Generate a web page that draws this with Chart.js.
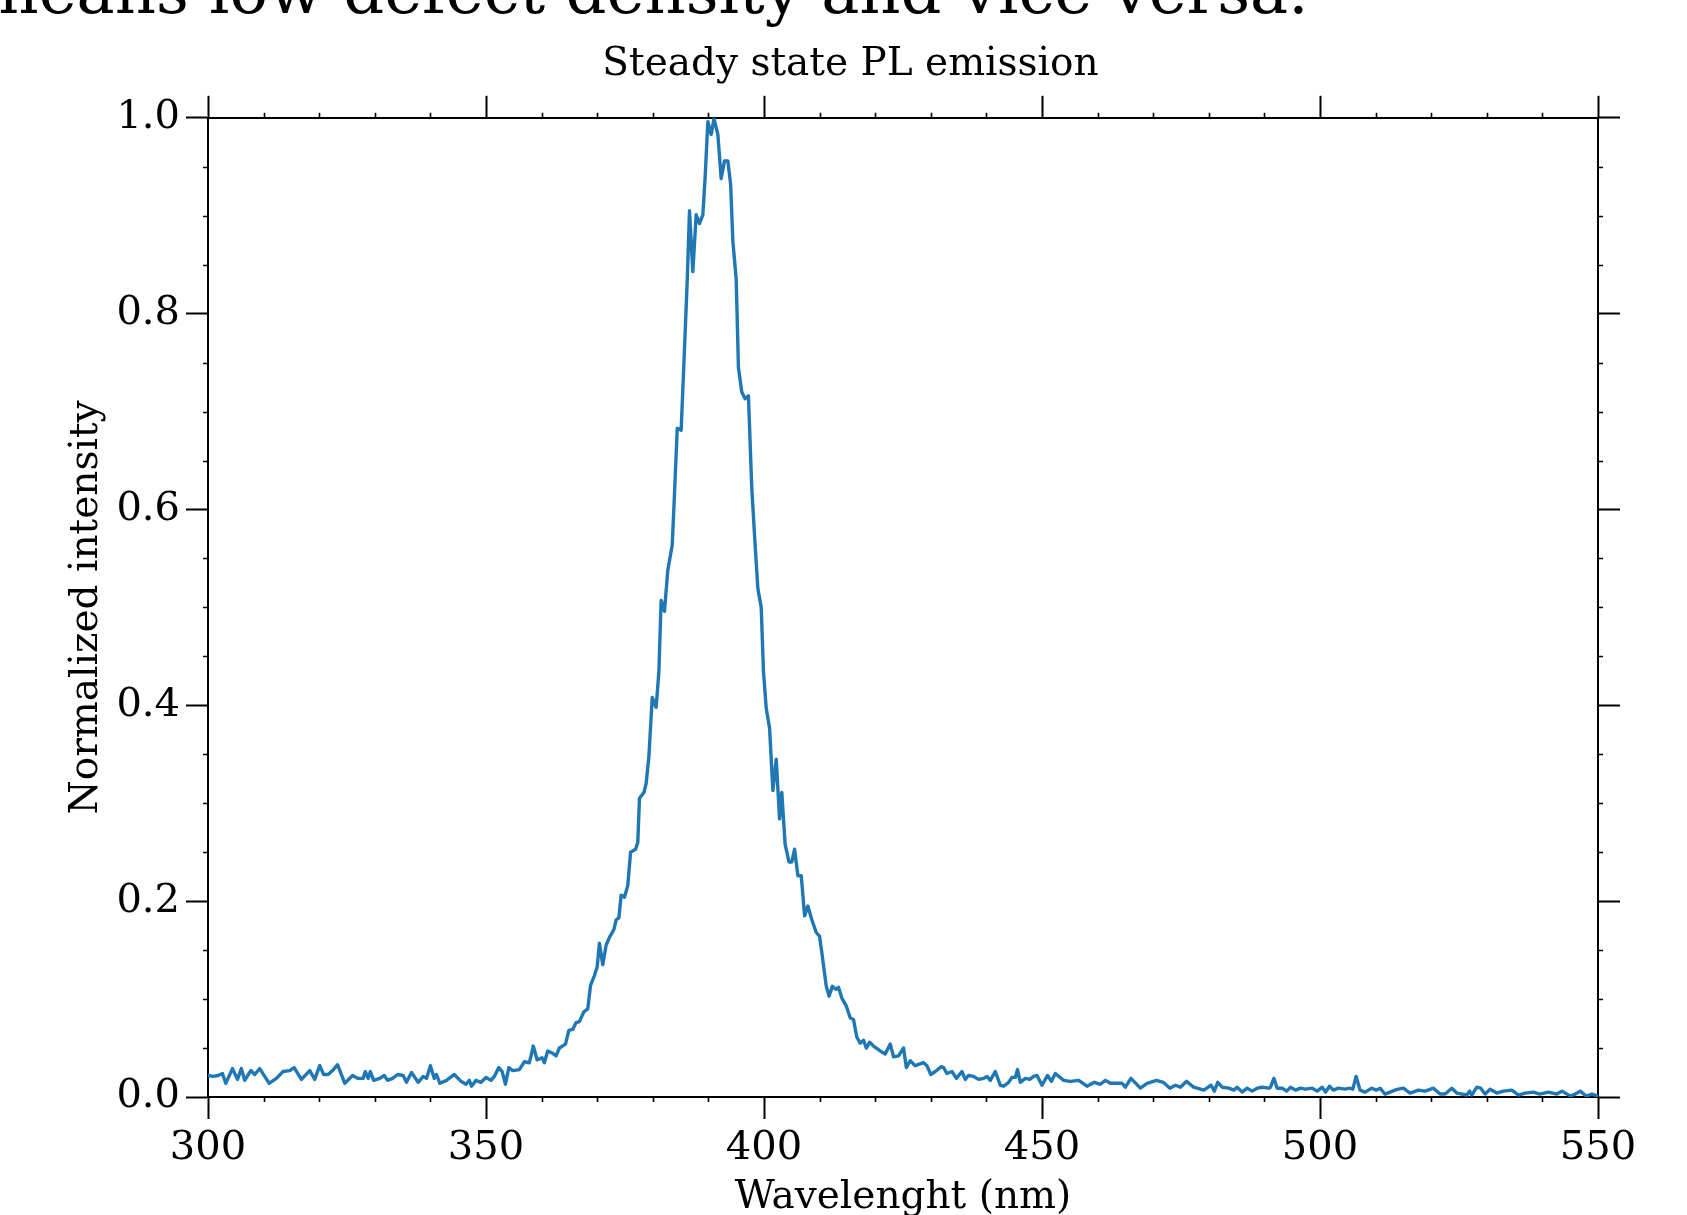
<!DOCTYPE html>
<html>
<head>
<meta charset="utf-8">
<title>Steady state PL emission</title>
<script src="https://cdn.jsdelivr.net/npm/chart.js@4.4.1/dist/chart.umd.min.js"></script>
<style>
    html, body { margin: 0; padding: 0; background: #fff; overflow: hidden; }
    #page { position: relative; width: 1687px; height: 1215px; }
    #pl-chart { position: absolute; left: 0; top: 0; }
    /* paragraph text of the surrounding page, cut off by the top edge */
    #page-text {
        position: absolute;
        left: -22px;
        top: -41px;
        font-family: 'DejaVu Serif', serif;
        font-size: 64px;
        line-height: 1;
        white-space: nowrap;
        color: #000;
        z-index: 2;
    }
</style>
</head>
<body>
<div id="page">
    <div id="page-text">means low defect density and vice versa.</div>
    <canvas id="pl-chart" width="1687" height="1215"></canvas>
</div>
<script>
// --- Spectrum data ---
const plWavelengths = [
    300.0, 300.9, 301.8, 302.6, 303.2, 304.4, 305.3, 306.0, 306.6, 307.7,
    308.4, 309.3, 310.2, 311.0, 312.3, 313.5, 314.7, 315.5, 316.8, 318.3,
    319.2, 320.1, 320.8, 321.6, 322.4, 323.3, 324.6, 326.0, 327.0, 327.9,
    328.3, 328.8, 329.2, 329.8, 330.9, 331.7, 332.3, 333.2, 334.1, 335.1,
    335.7, 336.6, 337.8, 338.7, 339.3, 340.0, 340.7, 341.1, 341.7, 342.9,
    344.3, 345.5, 346.4, 347.0, 347.4, 348.2, 349.1, 350.0, 350.9, 351.5,
    352.3, 352.9, 353.5, 354.1, 354.8, 356.0, 356.9, 357.8, 358.5, 359.2,
    360.1, 360.5, 361.1, 361.9, 362.6, 363.2, 364.3, 364.9, 365.6, 366.2,
    366.8, 367.6, 368.3, 368.8, 369.5, 370.0, 370.4, 371.0, 371.6, 372.2,
    373.0, 373.4, 373.9, 374.3, 374.9, 375.5, 376.0, 376.9, 377.3, 377.6,
    378.4, 378.8, 379.3, 379.9, 380.6, 381.1, 381.5, 382.1, 382.7, 383.5,
    383.9, 384.4, 385.1, 385.7, 386.2, 386.6, 387.2, 387.8, 388.4, 389.0,
    389.4, 389.9, 390.5, 391.0, 391.7, 392.3, 392.9, 393.5, 394.0, 394.4,
    395.0, 395.4, 396.0, 396.6, 397.2, 397.8, 398.4, 398.9, 399.5, 399.9,
    400.4, 401.0, 401.6, 402.2, 402.8, 403.2, 403.8, 404.5, 405.0, 405.5,
    406.1, 406.7, 407.3, 407.9, 408.6, 409.4, 410.0, 410.6, 411.2, 411.7,
    412.3, 412.9, 413.4, 414.0, 414.8, 415.5, 416.1, 416.7, 417.3, 417.9,
    418.4, 419.0, 419.7, 420.9, 421.8, 422.7, 423.3, 424.2, 425.1, 425.6,
    426.3, 427.2, 428.7, 429.3, 430.0, 430.8, 431.9, 432.3, 432.9, 433.8,
    434.6, 435.6, 436.2, 436.8, 437.7, 438.6, 439.5, 440.1, 440.7, 441.6,
    442.5, 443.1, 444.0, 444.6, 445.2, 445.6, 446.1, 447.0, 447.8, 448.5,
    449.1, 450.0, 451.0, 451.7, 452.4, 453.9, 455.1, 456.6, 458.1, 459.4,
    460.5, 461.4, 462.3, 464.4, 465.0, 466.0, 467.7, 468.9, 470.6, 471.8,
    473.0, 474.0, 474.9, 476.0, 477.3, 479.1, 480.4, 481.0, 481.6, 482.4,
    483.6, 484.5, 485.1, 486.0, 486.9, 487.8, 488.7, 489.6, 490.8, 491.1,
    491.7, 492.3, 493.2, 494.0, 494.7, 495.6, 496.5, 497.4, 498.6, 499.5,
    500.4, 501.0, 501.7, 502.4, 503.3, 504.5, 505.3, 505.9, 506.5, 507.2,
    508.1, 509.3, 510.1, 510.8, 511.7, 513.5, 514.1, 515.0, 516.2, 517.7,
    518.9, 520.4, 521.6, 522.5, 523.7, 524.6, 526.4, 526.9, 527.3, 528.2,
    528.9, 529.7, 530.6, 531.8, 533.0, 534.5, 535.7, 536.9, 538.4, 539.5,
    541.1, 542.6, 543.5, 545.0, 545.9, 546.8, 547.9, 548.9, 550.0
];

const plIntensities = [
    0.022, 0.021, 0.022, 0.024, 0.014, 0.029, 0.018, 0.029, 0.017, 0.027,
    0.023, 0.029, 0.021, 0.014, 0.019, 0.026, 0.027, 0.030, 0.018, 0.027,
    0.018, 0.032, 0.023, 0.023, 0.027, 0.033, 0.014, 0.022, 0.019, 0.019,
    0.026, 0.019, 0.026, 0.017, 0.019, 0.022, 0.017, 0.019, 0.023, 0.022,
    0.015, 0.025, 0.015, 0.021, 0.019, 0.032, 0.019, 0.023, 0.014, 0.017,
    0.023, 0.016, 0.013, 0.017, 0.011, 0.017, 0.015, 0.020, 0.017, 0.021,
    0.030, 0.026, 0.013, 0.030, 0.027, 0.028, 0.036, 0.035, 0.052, 0.038,
    0.040, 0.035, 0.047, 0.045, 0.042, 0.050, 0.054, 0.068, 0.069, 0.076,
    0.077, 0.087, 0.090, 0.114, 0.124, 0.133, 0.157, 0.135, 0.155, 0.163,
    0.171, 0.181, 0.183, 0.206, 0.204, 0.216, 0.250, 0.253, 0.260, 0.305,
    0.311, 0.320, 0.348, 0.408, 0.398, 0.435, 0.507, 0.496, 0.538, 0.564,
    0.616, 0.683, 0.681, 0.764, 0.835, 0.905, 0.843, 0.901, 0.892, 0.901,
    0.938, 0.996, 0.983, 0.999, 0.983, 0.938, 0.956, 0.956, 0.932, 0.874,
    0.835, 0.745, 0.720, 0.713, 0.716, 0.622, 0.564, 0.519, 0.500, 0.435,
    0.397, 0.377, 0.313, 0.345, 0.284, 0.311, 0.258, 0.240, 0.240, 0.253,
    0.226, 0.226, 0.185, 0.195, 0.181, 0.168, 0.164, 0.139, 0.113, 0.103,
    0.113, 0.110, 0.112, 0.101, 0.093, 0.081, 0.079, 0.061, 0.055, 0.058,
    0.050, 0.056, 0.052, 0.047, 0.044, 0.054, 0.041, 0.042, 0.050, 0.030,
    0.037, 0.032, 0.035, 0.032, 0.023, 0.026, 0.031, 0.030, 0.024, 0.026,
    0.019, 0.026, 0.018, 0.022, 0.021, 0.018, 0.019, 0.021, 0.017, 0.026,
    0.012, 0.011, 0.015, 0.020, 0.020, 0.028, 0.015, 0.019, 0.018, 0.021,
    0.022, 0.012, 0.022, 0.016, 0.024, 0.017, 0.016, 0.017, 0.011, 0.015,
    0.013, 0.017, 0.014, 0.014, 0.010, 0.019, 0.009, 0.014, 0.017, 0.015,
    0.009, 0.012, 0.010, 0.016, 0.010, 0.007, 0.012, 0.006, 0.015, 0.010,
    0.009, 0.007, 0.010, 0.005, 0.009, 0.006, 0.009, 0.010, 0.009, 0.010,
    0.019, 0.009, 0.009, 0.006, 0.010, 0.007, 0.009, 0.008, 0.009, 0.006,
    0.010, 0.005, 0.011, 0.007, 0.009, 0.008, 0.009, 0.008, 0.021, 0.007,
    0.005, 0.009, 0.007, 0.009, 0.003, 0.007, 0.008, 0.009, 0.004, 0.007,
    0.006, 0.009, 0.003, 0.003, 0.009, 0.004, 0.002, 0.006, 0.002, 0.010,
    0.009, 0.003, 0.008, 0.004, 0.006, 0.007, 0.002, 0.004, 0.005, 0.003,
    0.005, 0.003, 0.006, 0.001, 0.003, 0.006, 0.001, 0.003, 0.001
];

// --- Axis ticks ---
const xMajorTicks = [300, 350, 400, 450, 500, 550];
const xMinorTicks = [310, 320, 330, 340, 360, 370, 380, 390, 410, 420, 430, 440,
                     460, 470, 480, 490, 510, 520, 530, 540];
const yMajorTicks = [0.0, 0.2, 0.4, 0.6, 0.8, 1.0];
const yMinorTicks = [0.05, 0.10, 0.15, 0.25, 0.30, 0.35, 0.45, 0.50, 0.55,
                     0.65, 0.70, 0.75, 0.85, 0.90, 0.95];

const FONT_FAMILY = "'DejaVu Serif', serif";
const LINE_COLOR = '#1f77b4';

Chart.defaults.font.family = FONT_FAMILY;
Chart.defaults.color = '#000';

// Short outward ticks between the labelled ones (matplotlib style minor ticks)
const minorTickPlugin = {
    id: 'minorTicks',
    afterDraw(chart) {
        const { ctx, chartArea } = chart;
        const xScale = chart.scales.x;
        const yScale = chart.scales.y;
        const len = 5;
        ctx.save();
        ctx.strokeStyle = '#000';
        ctx.lineWidth = 1.6;
        ctx.beginPath();
        xMinorTicks.forEach(v => {
            const px = Math.round(xScale.getPixelForValue(v)) + 0.5;
            ctx.moveTo(px, chartArea.bottom);
            ctx.lineTo(px, chartArea.bottom + len);
            ctx.moveTo(px, chartArea.top);
            ctx.lineTo(px, chartArea.top - len);
        });
        yMinorTicks.forEach(v => {
            const py = Math.round(yScale.getPixelForValue(v)) + 0.5;
            ctx.moveTo(chartArea.left, py);
            ctx.lineTo(chartArea.left - len, py);
            ctx.moveTo(chartArea.right, py);
            ctx.lineTo(chartArea.right + len, py);
        });
        ctx.stroke();
        ctx.restore();
    }
};

function majorGrid() {
    return {
        drawOnChartArea: false,
        drawTicks: true,
        tickLength: 22,
        tickWidth: 2,
        tickColor: '#000'
    };
}

function fixedTicks(values) {
    // replace the auto generated ticks with our own list
    return scale => { scale.ticks = values.map(v => ({ value: v })); };
}

const plPoints = plWavelengths.map((w, i) => ({ x: w, y: plIntensities[i] }));

const ctx = document.getElementById('pl-chart').getContext('2d');

new Chart(ctx, {
    type: 'line',
    data: {
        datasets: [{
            label: 'PL',
            data: plPoints,
            borderColor: LINE_COLOR,
            borderWidth: 3.4,
            pointRadius: 0,
            tension: 0,
            fill: false,
            borderJoinStyle: 'round',
            borderCapStyle: 'round'
        }]
    },
    options: {
        responsive: false,
        animation: false,
        devicePixelRatio: 1,
        // left padding nudges the figure title to the right, y axis width makes up for it
        layout: { padding: { left: 14, top: 0, right: 0, bottom: 0 } },
        plugins: {
            legend: { display: false },
            tooltip: { enabled: false },
            title: {
                display: true,
                text: 'Steady state PL emission',
                color: '#000',
                font: { size: 39, weight: 'normal' },
                padding: { top: 41, bottom: 0 }
            }
        },
        scales: {
            x: {
                type: 'linear',
                position: 'bottom',
                min: 300,
                max: 550,
                afterBuildTicks: fixedTicks(xMajorTicks),
                border: { color: '#000', width: 2 },
                grid: majorGrid(),
                ticks: {
                    color: '#000',
                    font: { size: 40 },
                    padding: 6,
                    maxRotation: 0,
                    autoSkip: false,
                    callback: v => String(v)
                },
                title: {
                    display: true,
                    text: 'Wavelenght (nm)',
                    color: '#000',
                    font: { size: 39, lineHeight: 0.9 },
                    padding: { top: 0, bottom: 0 }
                },
                afterFit: s => { s.height = 118; }
            },
            xTop: {
                type: 'linear',
                position: 'top',
                min: 300,
                max: 550,
                afterBuildTicks: fixedTicks(xMajorTicks),
                border: { color: '#000', width: 2 },
                grid: majorGrid(),
                ticks: { display: false },
                afterFit: s => { s.height = 30; }
            },
            y: {
                type: 'linear',
                position: 'left',
                min: 0,
                max: 1,
                afterBuildTicks: fixedTicks(yMajorTicks),
                border: { color: '#000', width: 2 },
                grid: majorGrid(),
                ticks: {
                    color: '#000',
                    font: { size: 40 },
                    padding: 6,
                    callback: v => Number(v).toFixed(1)
                },
                title: {
                    display: true,
                    text: 'Normalized intensity',
                    color: '#000',
                    font: { size: 39 },
                    padding: { top: 49, bottom: 0 }
                },
                afterFit: s => { s.width = 194; }
            },
            yRight: {
                type: 'linear',
                position: 'right',
                min: 0,
                max: 1,
                afterBuildTicks: fixedTicks(yMajorTicks),
                border: { color: '#000', width: 2 },
                grid: majorGrid(),
                ticks: { display: false },
                afterFit: s => { s.width = 89; }
            }
        }
    },
    plugins: [minorTickPlugin]
});
</script>
</body>
</html>
